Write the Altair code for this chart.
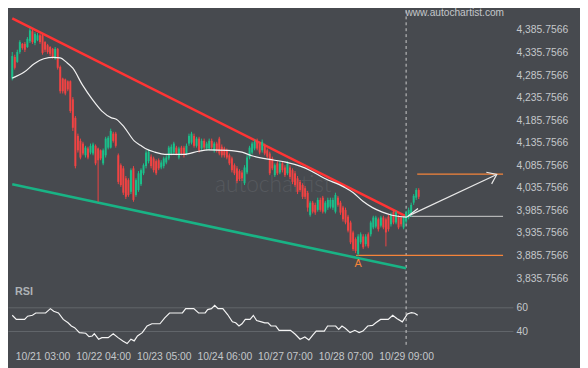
import altair as alt
import pandas as pd

BG = "#474a4f"
GREEN = "#1bbf8a"
RED = "#f04343"
TXT = "#c4c7ca"
ORANGE = "#f5843a"
FONT = "Liberation Sans"

# ---------------- candles (hourly bars) ----------------
opens = [4278, 4326, 4315, 4337, 4355, 4355, 4348, 4361, 4383, 4357,
         4363, 4374, 4374, 4359, 4352, 4348, 4344, 4322, 4344, 4304,
         4278, 4276, 4272, 4272, 4232, 4191, 4151, 4140, 4134, 4108,
         4123, 4114, 4112, 4129, 4123, 4119, 4090, 4108, 4125, 4125,
         4156, 4156, 4108, 4086, 4079, 4057, 4053, 4027, 4079, 4020,
         4031, 4044, 4068, 4084, 4095, 4105, 4101, 4095, 4097, 4081,
         4084, 4092, 4101, 4112, 4114, 4125, 4103, 4125, 4125, 4112,
         4134, 4136, 4151, 4129, 4145, 4123, 4140, 4123, 4123, 4140,
         4119, 4134, 4145, 4127, 4123, 4119, 4108, 4101, 4086, 4079,
         4073, 4070, 4046, 4070, 4103, 4114, 4123, 4140, 4134, 4119,
         4129, 4119, 4112, 4101, 4064, 4090, 4070, 4090, 4081, 4068,
         4081, 4075, 4068, 4057, 4049, 4042, 4035, 4025, 3976, 4003,
         3998, 3987, 4009, 4014, 3983, 3992, 3994, 3992, 3983, 4014,
         4003, 3992, 3987, 3972, 3959, 3937, 3922, 3889, 3915, 3928,
         3911, 3933, 3933, 3948, 3950, 3966, 3952, 3970, 3966, 3972,
         3955, 3983, 3959, 3972, 3970, 3948, 3961, 3970, 3976, 4003,
         4014, 4031]
closes = [4328, 4302, 4337, 4359, 4346, 4342, 4366, 4385, 4359, 4377,
          4374, 4359, 4335, 4342, 4337, 4333, 4326, 4344, 4302, 4250,
          4250, 4245, 4254, 4206, 4169, 4084, 4119, 4103, 4112, 4125,
          4103, 4129, 4132, 4090, 4097, 4101, 4119, 4145, 4147, 4162,
          4140, 4129, 4049, 4042, 4025, 4016, 4020, 4075, 4009, 4053,
          4068, 4075, 4086, 4114, 4116, 4084, 4075, 4068, 4079, 4092,
          4101, 4103, 4125, 4127, 4134, 4112, 4123, 4112, 4108, 4129,
          4151, 4156, 4129, 4145, 4119, 4140, 4125, 4134, 4140, 4125,
          4134, 4119, 4112, 4108, 4108, 4103, 4090, 4075, 4068, 4051,
          4055, 4057, 4081, 4103, 4125, 4134, 4138, 4123, 4114, 4138,
          4112, 4105, 4068, 4079, 4086, 4068, 4090, 4075, 4064, 4090,
          4060, 4049, 4042, 4027, 4031, 4016, 4016, 3992, 4003, 3983,
          3981, 4009, 3987, 3983, 4003, 4009, 4009, 4009, 4020, 3998,
          3981, 3966, 3959, 3941, 3915, 3900, 3896, 3928, 3933, 3904,
          3928, 3906, 3959, 3970, 3970, 3944, 3970, 3948, 3937, 3944,
          3976, 3959, 3981, 3948, 3955, 3970, 3981, 3987, 3998, 4018,
          4031, 4016]
highs = [4337, 4331, 4342, 4363, 4357, 4359, 4370, 4390, 4387, 4381,
         4379, 4377, 4377, 4361, 4355, 4350, 4346, 4348, 4346, 4307,
         4280, 4278, 4274, 4274, 4237, 4195, 4156, 4145, 4138, 4129,
         4127, 4134, 4136, 4132, 4125, 4121, 4123, 4149, 4151, 4167,
         4160, 4160, 4112, 4090, 4084, 4062, 4057, 4079, 4084, 4057,
         4073, 4079, 4090, 4119, 4121, 4110, 4105, 4099, 4101, 4097,
         4105, 4108, 4129, 4132, 4138, 4129, 4127, 4129, 4129, 4134,
         4156, 4160, 4156, 4149, 4149, 4145, 4145, 4138, 4145, 4145,
         4138, 4138, 4149, 4132, 4127, 4123, 4112, 4105, 4090, 4084,
         4077, 4075, 4086, 4108, 4129, 4138, 4143, 4145, 4138, 4143,
         4134, 4123, 4116, 4105, 4090, 4095, 4095, 4095, 4086, 4095,
         4086, 4079, 4073, 4062, 4053, 4046, 4040, 4029, 4007, 4007,
         4003, 4014, 4014, 4018, 4007, 4014, 4014, 4014, 4025, 4018,
         4007, 3996, 3992, 3976, 3963, 3941, 3926, 3933, 3937, 3933,
         3933, 3937, 3963, 3974, 3974, 3970, 3974, 3974, 3970, 3976,
         3981, 3987, 3985, 3976, 3974, 3974, 3985, 3992, 4003, 4022,
         4035, 4035]
lows = [4274, 4298, 4313, 4333, 4342, 4337, 4346, 4357, 4355, 4352,
        4361, 4355, 4331, 4337, 4333, 4328, 4322, 4320, 4298, 4245,
        4245, 4241, 4250, 4202, 4162, 4079, 4114, 4099, 4108, 4103,
        4099, 4110, 4108, 4086, 4005, 4097, 4086, 4103, 4121, 4123,
        4136, 4125, 4044, 4038, 4020, 4011, 4016, 4022, 4005, 4016,
        4027, 4040, 4064, 4079, 4090, 4079, 4070, 4064, 4075, 4077,
        4079, 4088, 4097, 4108, 4110, 4108, 4099, 4108, 4103, 4108,
        4129, 4132, 4125, 4125, 4114, 4119, 4121, 4119, 4119, 4121,
        4114, 4114, 4108, 4103, 4103, 4099, 4086, 4070, 4064, 4046,
        4051, 4051, 4042, 4066, 4099, 4110, 4119, 4119, 4110, 4114,
        4108, 4101, 4064, 4075, 4060, 4064, 4066, 4070, 4060, 4064,
        4055, 4044, 4038, 4022, 4027, 4011, 4011, 3983, 3972, 3979,
        3976, 3983, 3983, 3979, 3979, 3987, 3990, 3987, 3979, 3994,
        3976, 3961, 3955, 3937, 3911, 3896, 3891, 3885, 3911, 3900,
        3906, 3902, 3928, 3944, 3946, 3939, 3948, 3944, 3906, 3939,
        3950, 3955, 3955, 3944, 3950, 3944, 3957, 3966, 3972, 3998,
        4009, 4011]
bars = list(range(len(closes)))

# ---------------- moving average ----------------
ma_bar = [0, 4.9, 8.7, 12.5, 16.4, 19.0, 21.3, 24.0, 27.8, 31.7, 35.5, 39.3,
          41.2, 44.4, 48.3, 50.8, 52.7, 56.5, 60.4, 68.1, 73.8, 77.6, 85.3,
          91.0, 94.9, 100.6, 108.3, 114.0, 117.8, 123.6, 131.3, 135.1, 138.9,
          142.7, 146.6, 150.4, 156.1, 158.1, 160.7]
ma_val = [4279, 4293, 4311, 4322, 4325, 4324, 4315, 4301, 4264, 4232, 4206, 4191,
          4188, 4170, 4140, 4130, 4123, 4115, 4110, 4110, 4117, 4120, 4119,
          4115, 4107, 4100, 4093, 4084, 4075, 4057, 4038, 4025, 4006,
          3992, 3982, 3975, 3971, 3979, 3990]

# ---------------- RSI ----------------
rsi_bar = [0, 1.6, 4.9, 6.1, 8.0, 9.3, 13.2, 15.1, 16.4, 18.3, 20.2, 22.1, 23.4,
           24.7, 26.6, 29.1, 30.4, 31.7, 32.5, 34.2, 35.5, 38.0, 40.0, 41.9, 43.8,
           45.5, 47.0, 48.3, 49.6, 51.5, 53.4, 55.3, 58.5, 60.4, 62.3, 67.4, 68.7,
           71.9, 73.8, 76.4, 77.4, 78.9, 80.2, 81.5, 83.4, 85.3, 87.2, 88.5, 89.8,
           91.0, 92.3, 94.2, 95.5, 96.8, 98.7, 100.0, 101.3, 102.5, 104.4, 105.7,
           110.2, 112.1, 114.0, 115.9, 117.5, 119.1, 120.4, 123.6, 124.9, 128.1,
           129.3, 130.6, 131.9, 133.8, 135.7, 137.4, 138.9, 140.8, 142.7, 144.0,
           145.9, 148.9, 150.7, 152.3, 154.5, 156.5, 158.1, 159.4, 160.6]
rsi_val = [53.4, 49.9, 49.9, 52.6, 53.4, 55.3, 55.3, 58.9, 56.7, 55.3, 49.9, 47.1, 44.4,
           43.0, 38.9, 38.4, 35.6, 36.1, 38.0, 33.4, 34.7, 34.7, 38.0, 34.7, 32.0,
           29.8, 33.4, 32.0, 36.1, 38.9, 44.4, 46.3, 46.3, 51.2, 55.3, 55.3, 58.9,
           58.9, 55.3, 55.3, 58.1, 58.9, 61.6, 58.9, 58.9, 54.0, 47.9, 47.1, 44.4,
           46.3, 49.9, 49.9, 53.2, 49.0, 47.9, 47.1, 47.1, 44.4, 44.4, 40.8,
           40.8, 37.5, 33.4, 35.3, 32.8, 37.0, 40.2, 40.2, 44.4, 44.4,
           41.6, 44.4, 42.5, 38.9, 40.8, 38.9, 40.2, 44.4, 44.9, 47.1,
           49.9, 49.9, 53.4, 50.7, 47.9, 54.5, 55.6, 55.1, 53.4]

# ---------------- pattern lines and levels ----------------
res_bar = [0, 156]
res_val = [4411.5, 3972.5]
sup_bar = [0, 156]
sup_val = [4043.6, 3857.3]
orange_start = [136.2, 160.4]
orange_end = [194.4, 194.4]
orange_val = [3886.2, 4066.1]
gray_start = [157.3]
gray_end = [194.4]
gray_val = [3972.7]
arrow_bar = [156.7, 191.9]
arrow_val = [3973.2, 4065.4]
current_bar = 156
a_bar, a_val = 137, 3884.6

tick_bars = [12, 36, 60, 84, 108, 132, 156]
tick_labels = ["10/21 03:00", "10/22 04:00", "10/23 05:00", "10/24 06:00",
               "10/27 07:00", "10/28 07:00", "10/29 09:00"]
price_ticks = [3835.7566 + 50 * k for k in range(12)]
rsi_ticks = [40, 60]

# ---------------- scales / axes ----------------
x_scale = alt.Scale(domain=[0.268, 196.36], nice=False, zero=False)
p_scale = alt.Scale(domain=[3685.66, 4429.01], nice=False, zero=False)
r_scale = alt.Scale(domain=[27.9, 307.8], nice=False, zero=False)

label_expr = "[" + ",".join(f"'{t}'" for t in tick_labels) + "][round((datum.value - 12) / 24)]"
x_axis = alt.Axis(values=tick_bars, labelExpr=label_expr, grid=False, ticks=False,
                  domain=False, labelColor=TXT, labelFont=FONT, labelFontSize=10.5,
                  labelPadding=6, title=None, labelFlush=False, labelOverlap=False)
p_axis = alt.Axis(orient="right", values=price_ticks, format=",.4f", grid=False,
                  ticks=False, domain=False, labelColor=TXT, labelFont=FONT,
                  labelFontSize=10.5, labelPadding=3, title=None, labelOverlap=False,
                  labelFlush=False)
r_axis = alt.Axis(orient="right", values=rsi_ticks, format="d", grid=True,
                  gridColor="#63676c", gridWidth=1, ticks=False, domain=False,
                  labelColor=TXT, labelFont=FONT, labelFontSize=10.5, labelPadding=3,
                  title=None, labelOverlap=False, labelFlush=False)


def X(field):
    return alt.X(field, type="quantitative", scale=x_scale, axis=x_axis)


def P(field, axis=None):
    return alt.Y(field, type="quantitative", scale=p_scale, axis=axis)


candles = pd.DataFrame({"bar": bars, "open": opens, "high": highs,
                        "low": lows, "close": closes})
cbase = alt.Chart(candles)
ccolor = alt.condition("datum.close >= datum.open", alt.value(GREEN), alt.value(RED))
wicks = cbase.mark_rule(strokeWidth=1).encode(
    x=X("bar"), y=P("low"), y2="high:Q", color=ccolor)
bodies = cbase.mark_bar(width=2).encode(
    x=X("bar"), y=P("open", p_axis), y2="close:Q", color=ccolor)

ma = alt.Chart(pd.DataFrame({"bar": ma_bar, "v": ma_val})).mark_line(
    color="#f2f2f2", strokeWidth=1.2, interpolate="monotone").encode(
    x=X("bar"), y=P("v"))

res = alt.Chart(pd.DataFrame({"bar": res_bar, "v": res_val})).mark_line(
    color="#ff3434", strokeWidth=2.6).encode(x=X("bar"), y=P("v"))
sup = alt.Chart(pd.DataFrame({"bar": sup_bar, "v": sup_val})).mark_line(
    color="#19b385", strokeWidth=2.6).encode(x=X("bar"), y=P("v"))

orange_levels = alt.Chart(pd.DataFrame({"s": orange_start, "e": orange_end,
                                        "v": orange_val})).mark_rule(
    color=ORANGE, strokeWidth=1.2).encode(x=X("s"), x2="e", y=P("v"))
gray_levels = alt.Chart(pd.DataFrame({"s": gray_start, "e": gray_end,
                                      "v": gray_val})).mark_rule(
    color="#cfcfcf", strokeWidth=1).encode(x=X("s"), x2="e", y=P("v"))

arrow_df = pd.DataFrame({"bar": arrow_bar, "v": arrow_val})
arrow = alt.Chart(arrow_df).mark_line(color="#e8e8e8", strokeWidth=1.2).encode(
    x=X("bar"), y=P("v"))
arrow_head = alt.Chart(arrow_df.iloc[[1]]).mark_point(
    shape="M-1,-0.75L0,0L-1,0.75", angle=335.4, size=300, filled=False,
    color="#e8e8e8", strokeWidth=1.2, opacity=1).encode(x=X("bar"), y=P("v"))

a_label = alt.Chart(pd.DataFrame({"bar": [a_bar], "v": [a_val], "t": ["A"]})).mark_text(
    color=ORANGE, font=FONT, fontSize=11, dy=8, baseline="middle").encode(
    x=X("bar"), y=P("v"), text="t:N")

now_line = alt.Chart(pd.DataFrame({"bar": [current_bar]})).mark_rule(
    color="#cdcdcd", strokeWidth=1, strokeDash=[3, 3]).encode(
    x=X("bar"), y=alt.value(0), y2=alt.value(342))

rsi = alt.Chart(pd.DataFrame({"bar": rsi_bar, "r": rsi_val})).mark_line(
    color="#f4f4f4", strokeWidth=1.2).encode(
    x=X("bar"), y=alt.Y("r:Q", scale=r_scale, axis=r_axis))

rsi_title = alt.Chart(pd.DataFrame({"t": ["RSI"]})).mark_text(
    color="#aeb2b6", font=FONT, fontSize=11, fontWeight="bold", align="left",
    baseline="middle").encode(x=alt.value(7), y=alt.value(285), text="t:N")

wm_center = alt.Chart(pd.DataFrame({"t": ["autochartist"]})).mark_text(
    color="#56595e", font="Lato", fontSize=23, fontWeight=300, align="center",
    baseline="middle").encode(x=alt.value(269), y=alt.value(177), text="t:N")
wm_top = alt.Chart(pd.DataFrame({"t": ["www.autochartist.com"]})).mark_text(
    color="#c4c7ca", font=FONT, fontSize=10.3, align="left",
    baseline="middle").encode(x=alt.value(403), y=alt.value(3), text="t:N")

chart = alt.layer(
    wm_center, now_line, rsi, sup, res, orange_levels, gray_levels, wicks, bodies,
    ma, arrow, arrow_head, a_label, rsi_title, wm_top
).resolve_scale(y="independent").properties(
    width=512, height=340, background=BG,
    autosize=alt.AutoSizeParams(type="none"),
    padding={"left": 0, "top": 0, "right": 68, "bottom": 20},
).configure_view(stroke=None)

chart.save("out.html", embed_options={"renderer": "svg", "actions": False})
